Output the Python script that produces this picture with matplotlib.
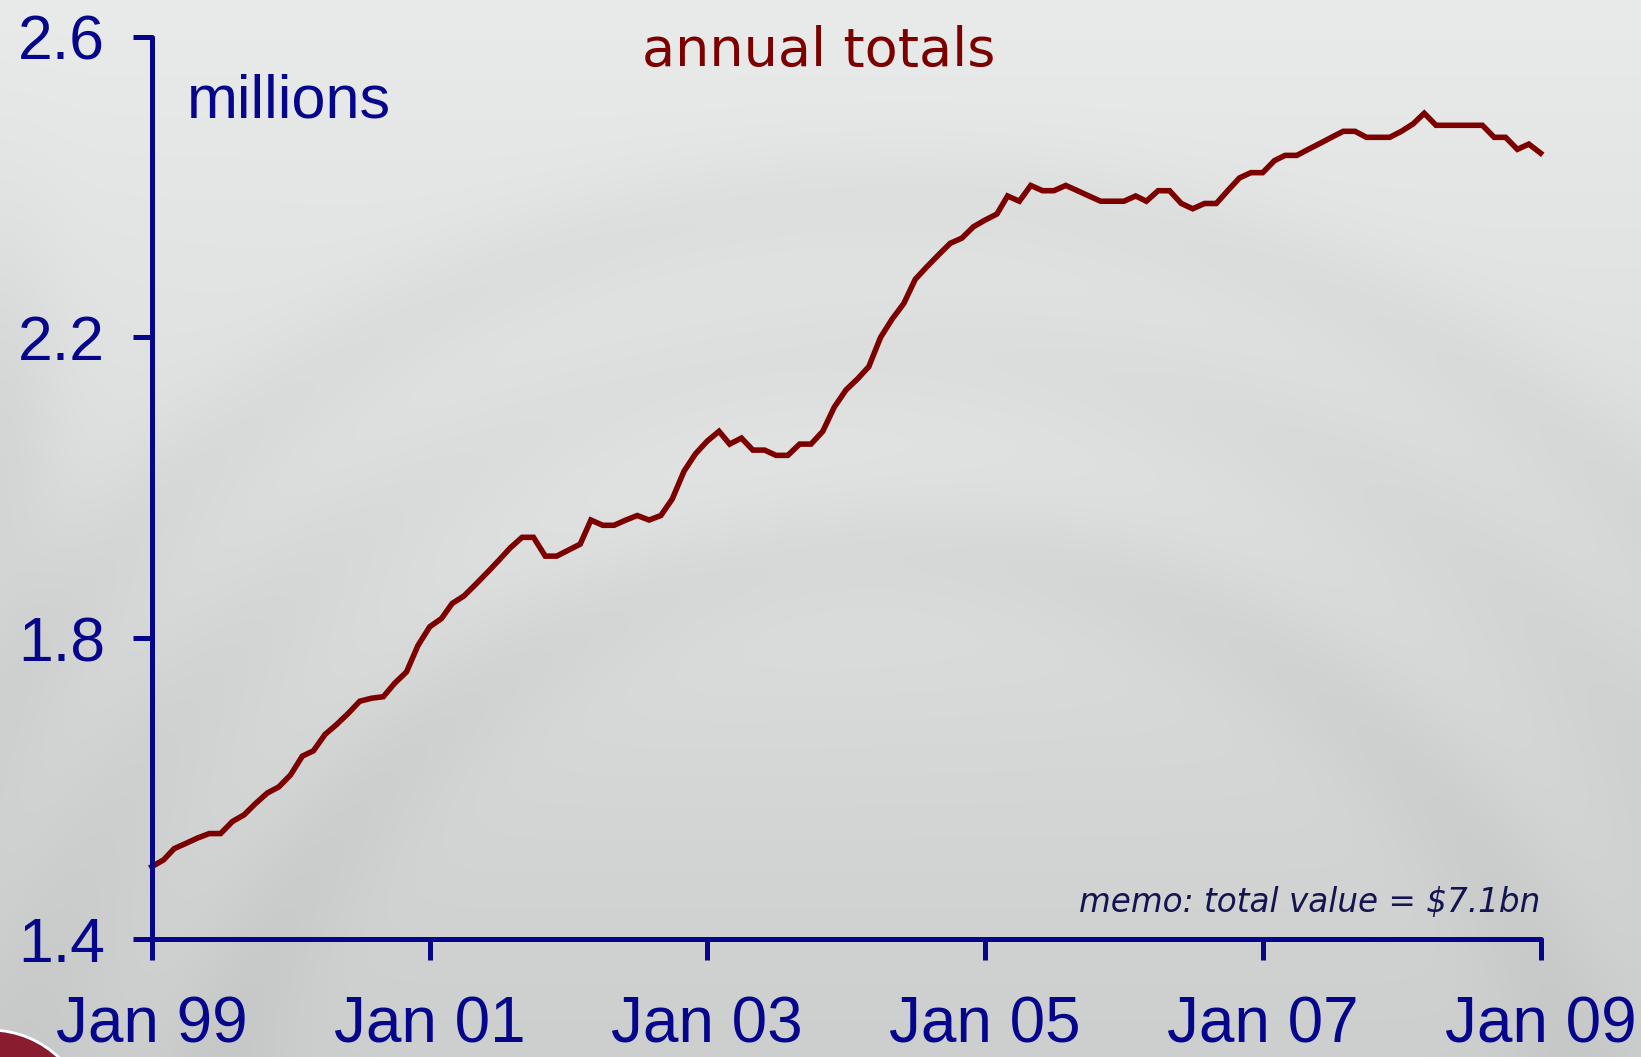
import numpy as np
import pandas as pd
import matplotlib
matplotlib.use('Agg')
import matplotlib.pyplot as plt
from matplotlib.patches import Circle

# monthly annual totals, millions, Jan 99 .. Jan 09
months = pd.date_range('1999-01-01', '2009-01-01', freq='MS')
totals = [
    1.496, 1.505, 1.520, 1.527, 1.534, 1.540, 1.540, 1.556, 1.565, 1.580, 1.594, 1.602,
    1.618, 1.643, 1.650, 1.672, 1.685, 1.700, 1.716, 1.720, 1.722, 1.740, 1.755, 1.790,
    1.815, 1.826, 1.846, 1.856, 1.871, 1.887, 1.903, 1.920, 1.934, 1.934, 1.909, 1.909,
    1.917, 1.925, 1.957, 1.950, 1.950, 1.957, 1.963, 1.957, 1.963, 1.985, 2.022, 2.045,
    2.062, 2.075, 2.058, 2.066, 2.050, 2.050, 2.043, 2.043, 2.058, 2.058, 2.075, 2.107,
    2.130, 2.145, 2.161, 2.200, 2.224, 2.245, 2.277, 2.294, 2.310, 2.325, 2.332, 2.347,
    2.356, 2.364, 2.388, 2.381, 2.402, 2.395, 2.395, 2.402, 2.395, 2.388, 2.381, 2.381,
    2.381, 2.388, 2.381, 2.395, 2.395, 2.378, 2.371, 2.378, 2.378, 2.395, 2.412, 2.419,
    2.419, 2.435, 2.442, 2.442, 2.450, 2.458, 2.466, 2.474, 2.474, 2.466, 2.466, 2.466,
    2.474, 2.484, 2.498, 2.482, 2.482, 2.482, 2.482, 2.482, 2.466, 2.466, 2.450, 2.457,
    2.445,
]
yticks = [1.4, 1.8, 2.2, 2.6]
xtick_years = [1999, 2001, 2003, 2005, 2007, 2009]
xtick_labels = ['Jan 99', 'Jan 01', 'Jan 03', 'Jan 05', 'Jan 07', 'Jan 09']

navy = '#06068c'
maroon = '#7d0000'

W, H = 1641, 1057
fig = plt.figure(figsize=(W / 100, H / 100), dpi=100)

# backdrop: soft grey gradient with faint rings
bg = fig.add_axes([0, 0, 1, 1], zorder=0)
yy, xx = np.mgrid[0:H, 0:W]
base = 235 - 28 * (yy / H)
r = np.hypot(xx - 900, yy - 1250)
rings = 7 * np.exp(-((r - 700) / 60) ** 2) + 6 * np.exp(-((r - 900) / 70) ** 2) \
    + 7 * np.exp(-((r - 1050) / 60) ** 2)
glow = 5 * np.exp(-(((xx - 700) / 500) ** 2 + ((yy - 480) / 200) ** 2))
edge = 10 * np.exp(-((xx / 60) ** 2 + ((yy - 420) / 200) ** 2))
g = base - rings + glow - edge
img = np.dstack([g - 3, g, g - 1]).clip(0, 255) / 255
bg.imshow(img, extent=[0, W, H, 0], aspect='auto')
bg.add_patch(Circle((-10, 1130), 100, facecolor='#8a1c30', edgecolor='white', lw=2))
bg.set_xlim(0, W)
bg.set_ylim(H, 0)
bg.axis('off')

ax = fig.add_axes([0.0925, 0.1118, 0.8463, 0.8536], zorder=1)
ax.patch.set_alpha(0)
ax.plot(months, totals, color=maroon, lw=4, solid_joinstyle='miter', clip_on=False)

ax.set_ylim(1.4, 2.6)
ax.set_xlim(pd.Timestamp('1999-01-01'), pd.Timestamp('2009-01-01'))
ax.set_yticks(yticks)
ax.set_yticklabels([f'{v:.1f}' for v in yticks])
ax.set_xticks([pd.Timestamp(f'{y}-01-01') for y in xtick_years])
ax.set_xticklabels(xtick_labels)

for s in ['top', 'right']:
    ax.spines[s].set_visible(False)
for s in ['left', 'bottom']:
    ax.spines[s].set_color(navy)
    ax.spines[s].set_linewidth(3.6)
    ax.spines[s].set_capstyle('round')
ax.tick_params(axis='y', length=13.5, width=3.6, color=navy, labelcolor=navy,
               labelsize=45, pad=20)
ax.tick_params(axis='x', length=15, width=3.6, color=navy, labelcolor=navy,
               labelsize=46, pad=26)
for lab in ax.get_xticklabels() + ax.get_yticklabels():
    lab.set_family('Liberation Sans')

ax.text(0.025, 0.927, 'millions', transform=ax.transAxes, color=navy,
        fontsize=44, family='Liberation Sans', va='center')
fig.text(0.499, 0.938, 'annual totals', color=maroon, fontsize=39,
         family='DejaVu Sans', ha='center', va='baseline')
ax.text(1.0, 0.03, 'memo: total value = $7.1bn', transform=ax.transAxes,
        color='#141450', fontsize=23.5, style='italic', family='DejaVu Sans',
        ha='right', va='baseline')

fig.savefig('out.png', dpi=100)
